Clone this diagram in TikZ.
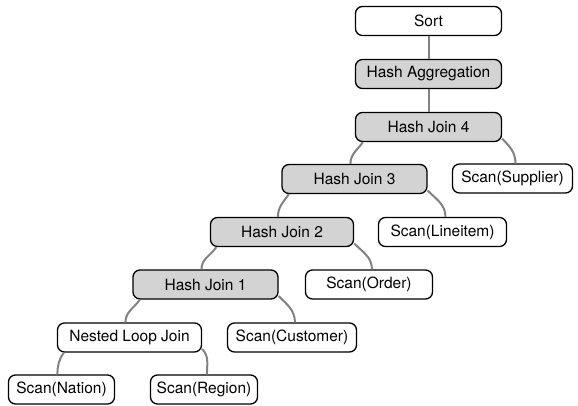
\documentclass[tikz,border=0pt]{standalone}
\usepackage{fontspec}
\setmainfont{TeX Gyre Heros}
\usepackage{tikz}

\definecolor{opGray}{RGB}{211,211,211}
\definecolor{edgeGray}{RGB}{130,130,130}

\begin{document}
\begin{tikzpicture}[x=1pt, y=1pt,
        every node/.style={font=\fontsize{15.5}{18}\selectfont}]
        \tikzstyle{opStyle} = [rectangle, rounded corners=7pt, draw=black,
                               line width=1.3pt, fill=white, inner sep=0pt,
                               minimum height=29pt]
        \tikzstyle{joinStyle} = [opStyle, fill=opGray, minimum width=145pt]
        \tikzstyle{grayEdge} = [draw=edgeGray, line width=2pt]
        \useasboundingbox (0,0) rectangle (578,-406);
        \node[opStyle, minimum width=146pt] (sort) at (428.5,-21) {Sort};
        \node[joinStyle, minimum width=146pt] (agg) at (428.5,-74) {Hash Aggregation};
        \node[joinStyle, minimum width=146pt] (hj4) at (428.5,-127) {Hash Join 4};
        \node[opStyle, minimum width=120pt] (supplier) at (512.5,-178.5) {Scan(Supplier)};
        \node[joinStyle] (hj3) at (354.5,-179) {Hash Join 3};
        \node[opStyle, minimum width=128pt] (lineitem) at (442.5,-232) {Scan(Lineitem)};
        \node[joinStyle, minimum width=143pt] (hj2) at (282,-232) {Hash Join 2};
        \node[opStyle, minimum width=127pt] (order) at (369,-284.5) {Scan(Order)};
        \node[joinStyle] (hj1) at (205.5,-284.5) {Hash Join 1};
        \node[opStyle, minimum width=129pt] (customer) at (292,-337.5) {Scan(Customer)};
        \node[opStyle, minimum width=144pt] (nlj) at (129.5,-337.5) {Nested Loop Join};
        \node[opStyle, minimum width=106pt] (nation) at (61.5,-389.5) {Scan(Nation)};
        \node[opStyle, minimum width=107pt] (region) at (204,-389.5) {Scan(Region)};
        \path[grayEdge] (sort) -- (agg);
        \path[grayEdge] (agg) -- (hj4);
        \foreach \from/\to in {hj4/hj3,hj3/hj2,hj2/hj1,hj1/nlj,nlj/nation}
            \path[grayEdge] (\from.193) to[out=-125, in=90] (\to.105);
        \foreach \from/\to in {hj4/supplier,hj3/lineitem,hj2/order,hj1/customer,nlj/region}
            \path[grayEdge] (\from.-9) to[out=-45, in=90] (\to.79);
    \end{tikzpicture}
\end{document}
